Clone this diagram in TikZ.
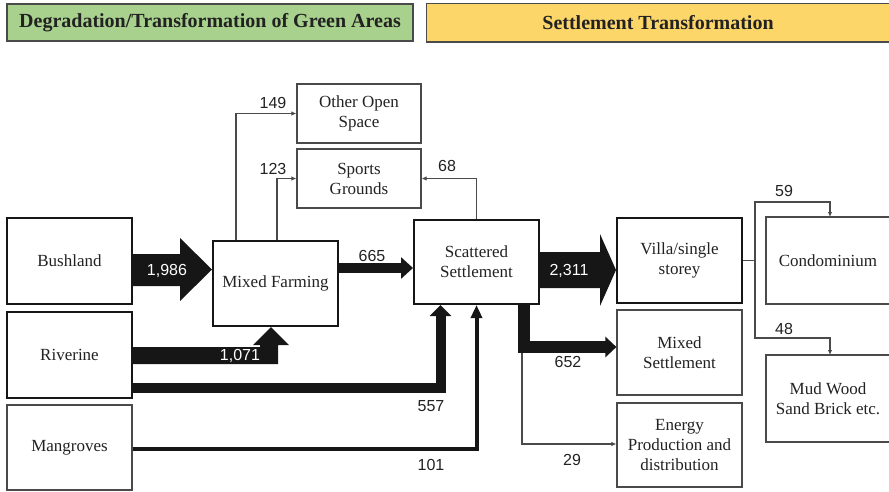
\documentclass[tikz,border=0pt]{standalone}
\usepackage{fontspec}
\setmainfont{Liberation Serif}
\newfontfamily\numfont{Liberation Sans}
\usetikzlibrary{arrows.meta,calc}
\definecolor{hdrgreen}{HTML}{A9D18E}
\definecolor{hdryellow}{HTML}{FDD669}
\definecolor{flowblack}{HTML}{161616}
\definecolor{linegray}{HTML}{4A4A4A}
\definecolor{txt}{HTML}{222222}
\tikzset{
  box/.style={draw=flowblack, line width=2pt, fill=white, align=center, inner sep=0pt,
    font=\fontsize{17}{20}\selectfont, text=txt},
  thinbox/.style={box, draw=linegray, line width=1.2pt},
  openbox/.style={box, draw=none},
  hdr/.style={line width=1.5pt, inner sep=0pt, font=\fontsize{20}{24}\selectfont\bfseries, text=txt},
  num/.style={font=\numfont\fontsize{16}{18}\selectfont, text=txt, inner sep=0pt},
  wnum/.style={num, text=white},
  conn/.style={draw=linegray, line width=1.2pt, -{Latex[length=5pt,width=4.5pt]}},
  bigflow/.style={fill=flowblack},
}
\begin{document}
\begin{tikzpicture}[x=1pt,y=-1pt]
\useasboundingbox (0,0) rectangle (889,491);
% headers
\node[hdr, draw=linegray, fill=hdrgreen, minimum width=406pt, minimum height=37pt] (hg) at (210,22.5) {Degradation/Transformation of Green Areas};
\node[hdr, fill=hdryellow, minimum width=462pt, minimum height=37pt] (hy) at (658,22.5) {Settlement Transformation};
\draw[linegray, line width=1.5pt] (hy.north east) -- (hy.north west) -- (hy.south west) -- (hy.south east);
% boxes
\node[box, minimum width=125pt, minimum height=86pt] (bush) at (69.5,261) {Bushland};
\node[box, minimum width=125pt, minimum height=86pt] (riv) at (69.5,355) {Riverine};
\node[thinbox, minimum width=125pt, minimum height=85pt] (mang) at (69.5,447.5) {Mangroves};
\node[box, minimum width=125pt, minimum height=85pt] (mf) at (275.5,283.5) {Mixed Farming};
\node[thinbox, minimum width=124pt, minimum height=59pt] (oos) at (359,113.5) {Other Open\\Space};
\node[thinbox, minimum width=124pt, minimum height=59pt] (sg) at (359,178.5) {Sports\\Grounds};
\node[box, minimum width=125pt, minimum height=84pt] (ss) at (476.5,262) {Scattered\\Settlement};
\node[box, minimum width=125pt, minimum height=85pt] (villa) at (679.5,260.5) {Villa/single\\storey};
\node[thinbox, minimum width=125pt, minimum height=85pt] (ms) at (679.5,352.5) {Mixed\\Settlement};
\node[thinbox, minimum width=125pt, minimum height=84pt] (en) at (679.5,445) {Energy\\Production and\\distribution};
\node[openbox, minimum width=122pt, minimum height=85pt] (condo) at (828,260.5) {Condominium};
\draw[linegray, line width=1.2pt] (condo.north east) -- (condo.north west) -- (condo.south west) -- (condo.south east);
\node[openbox, minimum width=122pt, minimum height=85pt] (mud) at (828,398.5) {Mud Wood\\Sand Brick etc.};
\draw[linegray, line width=1.2pt] (mud.north east) -- (mud.north west) -- (mud.south west) -- (mud.south east);
% thin connectors
\draw[conn] ($(mf.north)+(-39.5,0)$) |- (oos.west);
\draw[conn] ($(mf.north)+(1.5,0)$) |- (sg.west);
\draw[conn] (ss.north) |- (sg.east);
\draw[conn] ($(ss.south)+(45.5,0)$) |- (en.west |- 0,444);
\coordinate (jv) at (755,260.5);
\coordinate (c59) at (830,202);
\coordinate (c48) at (830,338);
\draw[linegray, line width=1.2pt] (villa.east) -- (jv);
\draw[conn] (jv) |- (c59) -- (c59 |- condo.north);
\draw[conn] (jv) |- (c48) -- (c48 |- mud.north);
% thick connectors
\draw[flowblack, line width=10pt, -{Triangle[width=21pt,length=12pt]}] (mf.east |- 0,268) -- (ss.west |- 0,268);
\draw[flowblack, line width=10pt, -{Triangle[width=21pt,length=11pt]}] (riv.east |- 0,388) -| ($(ss.south)+(-36,0)$);
\draw[flowblack, line width=4pt, -{Triangle[width=11pt,length=13pt]}] (mang.east |- 0,449) -| (ss.south);
\draw[flowblack, line width=12pt, -{Triangle[width=20pt,length=11pt]}] ($(ss.south)+(47,0)$) |- (ms.west |- 0,347);
% block arrows
\fill[bigflow] (bush.east |- 0,254) -- (180,254) -- (180,238) -- (mf.west |- 0,269.5) -- (180,301) -- (180,286) -- (bush.east |- 0,286) -- cycle;
\fill[bigflow] (riv.east |- 0,347) -- (260,347) -- (260,345) -- (253,345) -- (mf.south -| 271,0) -- (289,345) -- (278,345) -- (278,364) -- (riv.east |- 0,364) -- cycle;
\fill[bigflow] (ss.east |- 0,252) -- (600,252) -- (600,234) -- (villa.west |- 0,270) -- (600,306) -- (600,288) -- (ss.east |- 0,288) -- cycle;
% labels
\node[wnum] (l1986) at (167,271) {1,986};
\node[wnum] (l1071) at (240,356) {1,071};
\node[wnum] (l2311) at (569,271) {2,311};
\node[num] (l149) at (273,103) {149};
\node[num] (l123) at (273,169) {123};
\node[num] (l68) at (447,166) {68};
\node[num] (l665) at (372,256) {665};
\node[num] (l652) at (568,362) {652};
\node[num] (l557) at (431,406) {557};
\node[num] (l101) at (431,465) {101};
\node[num] (l29) at (572,460) {29};
\node[num] (l59) at (784,191) {59};
\node[num] (l48) at (784,329) {48};
\end{tikzpicture}
\end{document}
